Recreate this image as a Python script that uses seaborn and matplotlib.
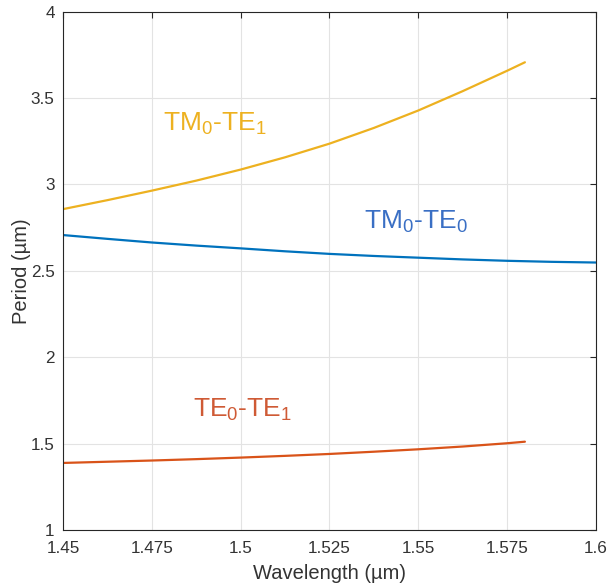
import matplotlib
matplotlib.use("Agg")
import matplotlib.pyplot as plt
import seaborn as sns
import pandas as pd

# Data
wl_short = [1.45, 1.4625, 1.475, 1.4875, 1.5, 1.5125, 1.525, 1.5375, 1.55, 1.5625, 1.575, 1.58]
tm0_te1 = [2.857, 2.909, 2.964, 3.022, 3.086, 3.157, 3.236, 3.327, 3.428, 3.540, 3.658, 3.707]
te0_te1 = [1.388, 1.395, 1.402, 1.410, 1.419, 1.429, 1.440, 1.453, 1.467, 1.483, 1.502, 1.511]
wl_long = [1.45, 1.4625, 1.475, 1.4875, 1.5, 1.5125, 1.525, 1.5375, 1.55, 1.5625, 1.575, 1.5875, 1.6]
tm0_te0 = [2.707, 2.685, 2.664, 2.646, 2.630, 2.613, 2.598, 2.586, 2.576, 2.566, 2.558, 2.552, 2.548]

x_ticks = [1.45, 1.475, 1.5, 1.525, 1.55, 1.575, 1.6]
x_ticklabels = ["1.45", "1.475", "1.5", "1.525", "1.55", "1.575", "1.6"]
y_ticks = [1, 1.5, 2, 2.5, 3, 3.5, 4]
y_ticklabels = ["1", "1.5", "2", "2.5", "3", "3.5", "4"]

series_names = ["TM0-TE1", "TE0-TE1", "TM0-TE0"]
line_colors = {"TM0-TE1": "#EDB120", "TE0-TE1": "#D95319", "TM0-TE0": "#0072BD"}

sns.set_theme(style="white")
plt.rcParams["font.family"] = ["Liberation Sans", "DejaVu Sans"]
plt.rcParams["mathtext.default"] = "regular"

df = pd.concat([
    pd.DataFrame({"Wavelength": wl_short, "Period": tm0_te1, "Mode": "TM0-TE1"}),
    pd.DataFrame({"Wavelength": wl_short, "Period": te0_te1, "Mode": "TE0-TE1"}),
    pd.DataFrame({"Wavelength": wl_long, "Period": tm0_te0, "Mode": "TM0-TE0"}),
], ignore_index=True)

fig = plt.figure(figsize=(6.09, 5.86), dpi=100)
ax = fig.add_axes([0.1034, 0.0956, 0.8752, 0.8845])

sns.lineplot(data=df, x="Wavelength", y="Period", hue="Mode", hue_order=series_names,
             palette=line_colors, linewidth=1.6, legend=False, ax=ax, estimator=None, sort=False)

ax.set_xlim(1.45, 1.6)
ax.set_ylim(1, 4)
ax.set_xticks(x_ticks)
ax.set_xticklabels(x_ticklabels)
ax.set_yticks(y_ticks)
ax.set_yticklabels(y_ticklabels)
ax.grid(True, color="#e3e3e3", linewidth=0.8)
ax.set_axisbelow(True)
for s in ax.spines.values():
    s.set_color("#262626")
    s.set_linewidth(0.8)
ax.tick_params(direction="in", length=4, width=0.8, color="#262626", top=True, right=True,
               labelsize=12.3, labelcolor="#333333")
ax.tick_params(axis="x", pad=8)
ax.tick_params(axis="y", pad=6)
ax.set_xlabel("Wavelength (µm)", fontsize=14.5, color="#333333", labelpad=6)
ax.set_ylabel("Period (µm)", fontsize=14.5, color="#333333", labelpad=0)

ax.text(1.4782, 3.313, r"TM$_0$-TE$_1$", color="#EDB120", fontsize=19, va="baseline", ha="left")
ax.text(1.5346, 2.744, r"TM$_0$-TE$_0$", color="#3A6FC4", fontsize=19, va="baseline", ha="left")
ax.text(1.4867, 1.654, r"TE$_0$-TE$_1$", color="#CF5A35", fontsize=19, va="baseline", ha="left")

fig.savefig("out.png", dpi=100)
